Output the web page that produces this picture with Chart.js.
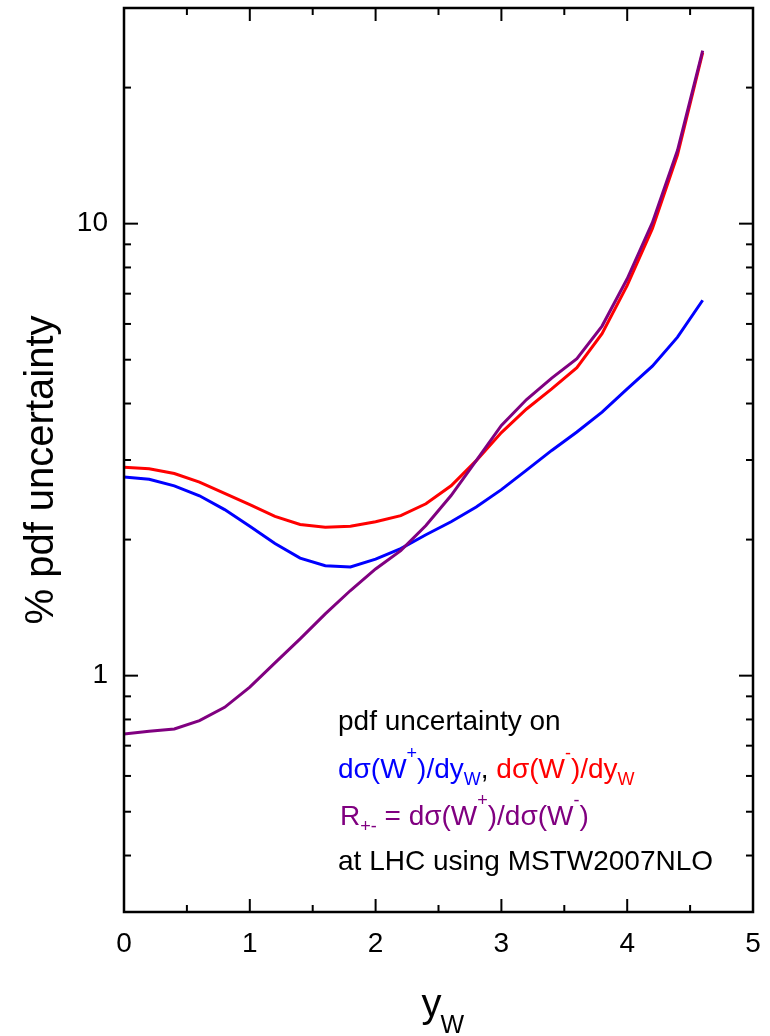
<!DOCTYPE html>
<html>
<head>
<meta charset="utf-8">
<title>pdf uncertainty on W rapidity distributions</title>
<script src="https://cdn.jsdelivr.net/npm/chart.js@4.4.1/dist/chart.umd.min.js"></script>
<style>
  html, body { margin: 0; padding: 0; background: #ffffff; }
  #wrap { width: 770px; height: 1036px; position: relative; }
</style>
</head>
<body>
<div id="wrap"><canvas id="pdfChart"></canvas></div>
<script>
// W rapidity points and % pdf uncertainty per curve
const rapidity = [0, 0.2, 0.4, 0.6, 0.8, 1.0, 1.2, 1.4, 1.6, 1.8, 2.0, 2.2, 2.4, 2.6, 2.8, 3.0, 3.2, 3.4, 3.6, 3.8, 4.0, 4.2, 4.4, 4.6];
const wPlus  = [2.75, 2.72, 2.63, 2.50, 2.33, 2.14, 1.96, 1.82, 1.75, 1.74, 1.81, 1.91, 2.05, 2.19, 2.36, 2.58, 2.85, 3.15, 3.46, 3.83, 4.31, 4.84, 5.61, 6.77];
const wMinus = [2.89, 2.87, 2.80, 2.68, 2.53, 2.39, 2.25, 2.16, 2.13, 2.14, 2.19, 2.26, 2.40, 2.63, 2.99, 3.45, 3.89, 4.31, 4.80, 5.71, 7.30, 9.75, 14.2, 23.9];
const ratio  = [0.743, 0.753, 0.762, 0.795, 0.851, 0.943, 1.067, 1.206, 1.370, 1.543, 1.722, 1.891, 2.148, 2.503, 2.992, 3.577, 4.083, 4.553, 5.024, 5.935, 7.553, 10.05, 14.53, 24.15];

const xMajorTicks = [0, 1, 2, 3, 4, 5];
const xMinorTicks = [0.5, 1.5, 2.5, 3.5, 4.5];
const yMajorTicks = [1, 10];
const yMinorTicks = [0.4, 0.5, 0.6, 0.7, 0.8, 0.9, 2, 3, 4, 5, 6, 7, 8, 9, 20];

const BLUE = '#0000ff';
const RED = '#ff0000';
const PURPLE = '#800080';
const FONT = '"Liberation Sans", Arial, Helvetica, sans-serif';

const toPoints = (ys) => rapidity.map((x, i) => ({ x: x, y: ys[i] }));

// draws a row of text pieces, each with its own colour and optional sub/superscript
function drawRuns(ctx, runs, x, y) {
    runs.forEach(r => {
        const size = r.pos ? 18 : 28;
        ctx.font = size + 'px ' + FONT;
        ctx.fillStyle = r.color;
        let dy = 0;
        if (r.pos === 'sup') dy = -19;
        if (r.pos === 'sub') dy = 7;
        ctx.fillText(r.text, x, y + dy);
        x += ctx.measureText(r.text).width;
    });
}

const framePlugin = {
    id: 'framePlugin',
    afterDraw(chart) {
        const ctx = chart.ctx;
        const a = chart.chartArea;
        const xs = chart.scales.x;
        const ys = chart.scales.y;

        ctx.save();
        ctx.strokeStyle = '#000';
        ctx.lineCap = 'butt';

        const seg = (x1, y1, x2, y2) => {
            ctx.beginPath();
            ctx.moveTo(x1, y1);
            ctx.lineTo(x2, y2);
            ctx.stroke();
        };

        // inward ticks on all four sides
        ctx.lineWidth = 2;
        const xTick = (v, len) => {
            const px = xs.getPixelForValue(v);
            seg(px, a.bottom, px, a.bottom - len);
            seg(px, a.top, px, a.top + len);
        };
        const yTick = (v, len) => {
            const py = ys.getPixelForValue(v);
            seg(a.left, py, a.left + len, py);
            seg(a.right, py, a.right - len, py);
        };
        xMajorTicks.forEach(v => xTick(v, 13));
        xMinorTicks.forEach(v => xTick(v, 7));
        yMajorTicks.forEach(v => yTick(v, 14));
        yMinorTicks.forEach(v => yTick(v, 7));

        ctx.lineWidth = 2.5;
        ctx.strokeRect(a.left, a.top, a.right - a.left, a.bottom - a.top);

        // tick labels
        ctx.fillStyle = '#000';
        ctx.font = '28px ' + FONT;
        ctx.textAlign = 'center';
        ctx.textBaseline = 'alphabetic';
        xMajorTicks.forEach(v => ctx.fillText(String(v), xs.getPixelForValue(v), 952));
        ctx.textAlign = 'right';
        ctx.textBaseline = 'middle';
        yMajorTicks.forEach(v => ctx.fillText(String(v), 108, ys.getPixelForValue(v)));

        // axis titles
        ctx.textBaseline = 'alphabetic';
        ctx.textAlign = 'left';
        ctx.font = '40px ' + FONT;
        const yw = ctx.measureText('y').width;
        const cx = xs.getPixelForValue(2.5) - 17;
        ctx.fillText('y', cx, 1017);
        ctx.font = '25px ' + FONT;
        ctx.fillText('W', cx + yw - 1, 1033);

        ctx.save();
        ctx.translate(53, 470);
        ctx.rotate(-Math.PI / 2);
        ctx.textAlign = 'center';
        ctx.font = '40px ' + FONT;
        ctx.fillText('% pdf uncertainty', 0, 0);
        ctx.restore();

        // in-plot legend text
        ctx.textAlign = 'left';
        const lx = 338;
        drawRuns(ctx, [{ text: 'pdf uncertainty on', color: '#000' }], lx, 730);
        drawRuns(ctx, [
            { text: 'd\u03c3(W', color: BLUE },
            { text: '+', color: BLUE, pos: 'sup' },
            { text: ')/dy', color: BLUE },
            { text: 'W', color: BLUE, pos: 'sub' },
            { text: ', ', color: '#000' },
            { text: 'd\u03c3(W', color: RED },
            { text: '-', color: RED, pos: 'sup' },
            { text: ')/dy', color: RED },
            { text: 'W', color: RED, pos: 'sub' }
        ], lx, 778);
        drawRuns(ctx, [
            { text: 'R', color: PURPLE },
            { text: '+-', color: PURPLE, pos: 'sub' },
            { text: ' = d\u03c3(W', color: PURPLE },
            { text: '+', color: PURPLE, pos: 'sup' },
            { text: ')/d\u03c3(W', color: PURPLE },
            { text: '-', color: PURPLE, pos: 'sup' },
            { text: ')', color: PURPLE }
        ], lx + 2, 825);
        drawRuns(ctx, [{ text: 'at LHC using MSTW2007NLO', color: '#000' }], lx, 870);

        ctx.restore();
    }
};

const ctx = document.getElementById('pdfChart').getContext('2d');
new Chart(ctx, {
    type: 'line',
    data: {
        datasets: [{
            label: 'W+',
            data: toPoints(wPlus),
            borderColor: BLUE,
            borderWidth: 3,
            order: 3
        }, {
            label: 'W-',
            data: toPoints(wMinus),
            borderColor: RED,
            borderWidth: 3,
            order: 2
        }, {
            label: 'R+-',
            data: toPoints(ratio),
            borderColor: PURPLE,
            borderWidth: 3,
            order: 1
        }]
    },
    options: {
        responsive: true,
        maintainAspectRatio: false,
        animation: false,
        layout: {
            padding: { left: 124, right: 17, top: 8, bottom: 124 }
        },
        elements: {
            point: { radius: 0 },
            line: { tension: 0, fill: false }
        },
        plugins: {
            legend: { display: false },
            tooltip: { enabled: false }
        },
        scales: {
            x: {
                type: 'linear',
                min: 0,
                max: 5,
                display: false
            },
            y: {
                type: 'logarithmic',
                min: 0.3,
                max: 30,
                display: false
            }
        }
    },
    plugins: [framePlugin]
});
</script>
</body>
</html>
